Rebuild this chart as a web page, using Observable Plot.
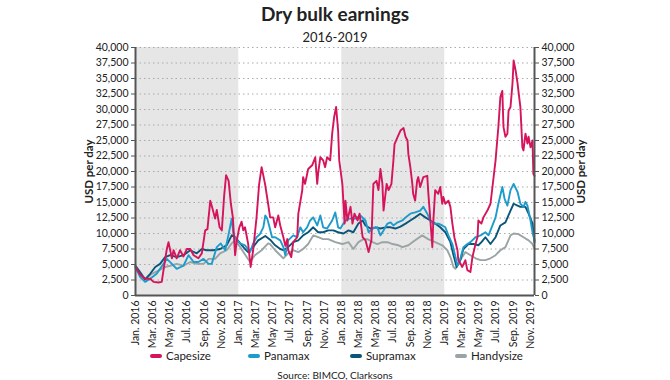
<!DOCTYPE html>
<html>
<head>
<meta charset="utf-8">
<script src="https://cdn.jsdelivr.net/npm/d3@7"></script>
<script src="https://cdn.jsdelivr.net/npm/@observablehq/plot@0.6"></script>
<style>
  html, body { margin: 0; padding: 0; background: #fff; }
  #wrap { position: relative; width: 670px; height: 380px; font-family: Lato, "Open Sans", sans-serif; color: #222; }
  #title { position: absolute; top: 1px; left: 0; width: 670px; text-align: center; font-size: 19px; font-weight: 700; line-height: 26px; }
  #subtitle { position: absolute; top: 28px; left: 0; width: 670px; text-align: center; font-size: 13px; line-height: 18px; }
  #chart { position: absolute; top: 40px; left: 0; }
  .leg { position: absolute; top: 348px; font-size: 11.5px; line-height: 16px; white-space: nowrap; }
  .sw { display: inline-block; width: 12px; height: 4px; border-radius: 2px; vertical-align: middle; margin-right: 4px; position: relative; top: -1px; }
  #source { position: absolute; top: 368px; left: 0; width: 670px; text-align: center; font-size: 10px; line-height: 14px; }
</style>
</head>
<body>
<div id="wrap">
  <div id="title">Dry bulk earnings</div>
  <div id="subtitle">2016-2019</div>
  <div id="chart"></div>
  <div id="legend"></div>
  <div id="source">Source: BIMCO, Clarksons</div>
</div>
<script>
const seriesNames = ["Capesize", "Panamax", "Supramax", "Handysize"];
const seriesColors = ["#d5145c", "#1f9bcb", "#0b5678", "#9aa4a4"];
const legendLeft = [150, 248, 350, 455];
const shadedYears = [2016, 2018];
const yTicks = [0, 2500, 5000, 7500, 10000, 12500, 15000, 17500, 20000, 22500, 25000, 27500, 30000, 32500, 35000, 37500, 40000];
const monthAbbr = ["Jan.", "Feb.", "Mar.", "Apr.", "May", "Jun.", "Jul.", "Aug.", "Sep.", "Oct.", "Nov.", "Dec."];
const tickMonths = ["2016-01-01","2016-03-01","2016-05-01","2016-07-01","2016-09-01","2016-11-01",
  "2017-01-01","2017-03-01","2017-05-01","2017-07-01","2017-09-01","2017-11-01",
  "2018-01-01","2018-03-01","2018-05-01","2018-07-01","2018-09-01","2018-11-01",
  "2019-01-01","2019-03-01","2019-05-01","2019-07-01","2019-09-01","2019-11-01"];
const xStart = "2016-01-01";
const xEnd = "2019-11-15";

const capesize = [
["2016-01-01",4600],["2016-01-17",3400],["2016-02-04",2700],["2016-02-22",2700],["2016-03-05",2200],["2016-03-22",2100],["2016-04-03",2200],["2016-04-09",4000],["2016-04-21",7500],["2016-04-27",8600],["2016-05-09",6000],["2016-05-15",7300],["2016-05-26",6000],["2016-06-07",7300],["2016-06-19",6300],["2016-07-01",7500],["2016-07-13",7500],["2016-07-25",6500],["2016-08-11",6000],["2016-08-23",6800],["2016-09-04",10500],["2016-09-12",10700],["2016-09-22",15300],["2016-09-30",14000],["2016-10-09",12400],["2016-10-15",13800],["2016-10-25",11000],["2016-11-02",10500],["2016-11-10",16000],["2016-11-17",19400],["2016-11-26",18500],["2016-12-04",14800],["2016-12-11",12600],["2016-12-19",6500],["2016-12-25",8900],
["2017-01-03",11000],["2017-01-11",11900],["2017-01-17",10500],["2017-01-23",11000],["2017-02-03",8400],["2017-02-12",4600],["2017-02-21",7300],["2017-03-05",12600],["2017-03-14",17900],["2017-03-23",20700],["2017-04-04",18000],["2017-04-15",14800],["2017-04-22",12600],["2017-05-03",12600],["2017-05-10",11000],["2017-05-21",12900],["2017-05-28",11300],["2017-06-08",9400],["2017-06-15",8000],["2017-06-22",9100],["2017-06-25",7300],["2017-07-06",6200],["2017-07-13",8600],["2017-07-27",9400],["2017-07-31",13200],["2017-08-14",17000],["2017-08-17",19100],["2017-08-24",18000],["2017-09-04",20400],["2017-09-18",21000],["2017-09-29",22300],["2017-10-06",18000],["2017-10-09",19600],["2017-10-17",22300],["2017-10-27",21800],["2017-11-03",20700],["2017-11-10",22300],["2017-11-21",21800],["2017-11-28",26100],["2017-12-05",28800],["2017-12-12",30400],["2017-12-19",26600],["2017-12-23",21800],
["2018-01-03",18000],["2018-01-11",11600],["2018-01-14",15300],["2018-01-21",12100],["2018-02-01",14300],["2018-02-08",11600],["2018-02-15",13200],["2018-02-26",12100],["2018-03-05",13200],["2018-03-16",9400],["2018-03-26",8900],["2018-04-06",7000],["2018-04-16",8900],["2018-04-23",18000],["2018-05-04",18500],["2018-05-11",17000],["2018-05-18",20400],["2018-05-25",18000],["2018-05-29",13700],["2018-06-09",18000],["2018-06-16",17000],["2018-06-26",18000],["2018-07-03",21800],["2018-07-07",24400],["2018-07-18",25600],["2018-07-28",26600],["2018-08-08",27000],["2018-08-15",25600],["2018-08-22",25000],["2018-08-25",22800],["2018-09-01",20700],["2018-09-08",18000],["2018-09-11",16400],["2018-09-18",15300],["2018-09-25",18500],["2018-09-29",19100],["2018-10-06",17500],["2018-10-17",19100],["2018-10-31",19300],["2018-11-03",17000],["2018-11-11",12100],["2018-11-18",7800],["2018-11-21",11600],["2018-11-28",17000],["2018-12-09",16400],["2018-12-16",17500],["2018-12-23",14800],["2018-12-27",15900],
["2019-01-03",14800],["2019-01-14",15300],["2019-01-21",14300],["2019-01-28",11600],["2019-02-04",9400],["2019-02-15",7300],["2019-02-18",5700],["2019-02-25",5200],["2019-03-04",4600],["2019-03-15",5700],["2019-03-22",4100],["2019-04-02",3800],["2019-04-09",6200],["2019-04-20",8300],["2019-04-27",9400],["2019-04-30",12100],["2019-05-11",11600],["2019-05-18",12600],["2019-06-01",13700],["2019-06-12",14800],["2019-06-19",17500],["2019-06-30",21800],["2019-07-07",25600],["2019-07-10",27200],["2019-07-17",32000],["2019-07-24",33000],["2019-07-28",27200],["2019-08-04",25600],["2019-08-11",26100],["2019-08-15",29800],["2019-08-22",30400],["2019-08-29",34200],["2019-09-02",37900],["2019-09-09",36300],["2019-09-16",34200],["2019-09-19",33000],["2019-09-26",30400],["2019-10-03",23900],["2019-10-07",23400],["2019-10-14",26100],["2019-10-21",24500],["2019-10-25",25600],["2019-11-01",23900],["2019-11-08",25000],["2019-11-11",19600],["2019-11-15",19300]
];

const panamax = [
["2016-01-01",4600],["2016-01-17",3000],["2016-02-04",2200],["2016-02-22",2700],["2016-03-16",3500],["2016-04-09",5100],["2016-04-21",5900],["2016-05-09",5100],["2016-05-26",4300],["2016-06-19",4800],["2016-07-07",6500],["2016-07-25",5400],["2016-08-11",5400],["2016-08-29",5900],["2016-09-16",5100],["2016-09-27",5100],["2016-10-15",7800],["2016-10-29",8400],["2016-11-14",7300],["2016-11-26",9900],["2016-12-07",12400],["2016-12-13",9900],["2016-12-25",8900],
["2017-01-06",8400],["2017-01-23",8100],["2017-02-10",7000],["2017-02-21",8400],["2017-03-05",9400],["2017-03-17",9900],["2017-03-29",11000],["2017-04-05",12900],["2017-04-12",12400],["2017-04-20",11000],["2017-04-29",9400],["2017-05-10",9400],["2017-05-28",8900],["2017-06-08",7800],["2017-06-15",6500],["2017-06-25",8900],["2017-07-13",9700],["2017-07-27",9400],["2017-08-07",11000],["2017-08-17",10200],["2017-08-31",11000],["2017-09-11",12100],["2017-09-22",12600],["2017-10-06",11300],["2017-10-17",12900],["2017-10-27",11000],["2017-11-10",10800],["2017-11-28",12100],["2017-12-09",13400],["2017-12-19",11000],["2017-12-27",10800],
["2018-01-07",11600],["2018-01-21",12400],["2018-02-08",12400],["2018-02-18",12400],["2018-03-08",12900],["2018-03-26",12100],["2018-04-06",10200],["2018-04-20",10800],["2018-05-07",11000],["2018-05-18",9700],["2018-05-29",10500],["2018-06-12",11600],["2018-06-23",11800],["2018-07-03",11300],["2018-07-18",11800],["2018-08-04",12100],["2018-08-15",12600],["2018-09-01",13200],["2018-09-18",13400],["2018-10-06",13700],["2018-10-17",14300],["2018-10-31",13200],["2018-11-11",12100],["2018-11-21",11600],["2018-12-09",11600],["2018-12-23",11300],
["2019-01-03",11000],["2019-01-14",9700],["2019-01-28",8300],["2019-02-08",6200],["2019-02-15",4800],["2019-02-25",5900],["2019-03-08",7800],["2019-03-22",8300],["2019-04-02",8600],["2019-04-20",9400],["2019-05-08",9700],["2019-05-25",10200],["2019-06-05",9700],["2019-06-19",11300],["2019-06-30",12600],["2019-07-10",14800],["2019-07-24",17500],["2019-08-01",15600],["2019-08-11",14500],["2019-08-22",17000],["2019-09-02",18000],["2019-09-16",16700],["2019-09-26",14800],["2019-10-07",14300],["2019-10-14",15100],["2019-10-21",14500],["2019-11-01",12100],["2019-11-08",10200],["2019-11-15",8900]
];

const supramax = [
["2016-01-01",4800],["2016-01-17",3800],["2016-02-04",2600],["2016-02-22",3500],["2016-03-11",4600],["2016-03-28",5100],["2016-04-15",6200],["2016-05-03",6500],["2016-05-26",6200],["2016-06-19",6500],["2016-07-13",7300],["2016-08-05",6800],["2016-08-23",7500],["2016-09-09",7300],["2016-10-03",7300],["2016-10-27",7500],["2016-11-19",8100],["2016-12-07",9700],["2016-12-19",9400],
["2017-01-06",8400],["2017-01-23",7500],["2017-02-03",7000],["2017-02-21",7800],["2017-03-11",8900],["2017-04-05",9600],["2017-04-22",9000],["2017-05-10",8100],["2017-05-28",7500],["2017-06-08",7300],["2017-06-25",7800],["2017-07-13",8600],["2017-07-31",8900],["2017-08-17",9700],["2017-09-04",10200],["2017-09-22",11000],["2017-10-09",10200],["2017-10-27",10200],["2017-11-14",10500],["2017-12-02",10500],["2017-12-19",10200],
["2018-01-07",10000],["2018-01-25",10500],["2018-02-11",10200],["2018-03-01",11600],["2018-03-16",12100],["2018-03-26",11300],["2018-04-13",10800],["2018-05-01",11000],["2018-05-18",10800],["2018-06-05",11000],["2018-06-23",11000],["2018-07-10",10800],["2018-07-28",11100],["2018-08-15",11600],["2018-09-01",12100],["2018-09-18",12600],["2018-10-06",13200],["2018-10-24",12600],["2018-11-11",12100],["2018-11-28",11600],["2018-12-16",11000],
["2019-01-03",10200],["2019-01-21",8600],["2019-02-01",6500],["2019-02-12",4600],["2019-02-25",5700],["2019-03-08",7500],["2019-03-26",8300],["2019-04-13",8300],["2019-04-30",8100],["2019-05-11",8600],["2019-05-25",9400],["2019-06-12",8300],["2019-06-30",9400],["2019-07-17",11300],["2019-08-04",11800],["2019-08-22",13700],["2019-09-02",14800],["2019-09-16",14500],["2019-09-26",14300],["2019-10-14",14300],["2019-10-25",13200],["2019-11-08",11600],["2019-11-15",8600]
];

const handysize = [
["2016-01-01",4300],["2016-01-23",3000],["2016-02-04",2600],["2016-02-28",3500],["2016-03-22",4000],["2016-04-15",4600],["2016-05-03",4800],["2016-05-26",5100],["2016-06-19",4800],["2016-07-13",5400],["2016-08-05",5100],["2016-08-29",5100],["2016-09-16",5900],["2016-10-09",5900],["2016-10-27",6800],["2016-11-19",7300],["2016-12-07",8400],["2016-12-19",8900],
["2017-01-06",7800],["2017-01-29",6200],["2017-02-10",5400],["2017-02-27",6500],["2017-03-23",7300],["2017-04-15",8400],["2017-04-22",8300],["2017-05-10",7300],["2017-05-28",6500],["2017-06-08",6000],["2017-06-25",6800],["2017-07-13",7300],["2017-07-31",7000],["2017-08-17",7500],["2017-09-04",8300],["2017-09-22",9700],["2017-10-09",9400],["2017-10-27",9100],["2017-11-14",9100],["2017-12-09",8600],
["2018-01-03",8300],["2018-01-25",8600],["2018-02-11",7500],["2018-03-01",8600],["2018-03-19",9100],["2018-04-02",9100],["2018-04-20",8600],["2018-05-07",8300],["2018-05-25",8600],["2018-06-12",8600],["2018-06-30",8300],["2018-07-21",8100],["2018-08-04",7800],["2018-08-25",8100],["2018-09-18",8900],["2018-10-13",9700],["2018-11-03",9100],["2018-11-28",8600],["2018-12-23",8100],
["2019-01-10",7300],["2019-01-21",6200],["2019-02-01",4600],["2019-02-08",4300],["2019-02-18",5200],["2019-03-04",6200],["2019-03-15",7000],["2019-04-02",6500],["2019-04-20",6000],["2019-05-08",5700],["2019-05-25",5700],["2019-06-12",6000],["2019-06-30",6500],["2019-07-17",7300],["2019-08-04",7800],["2019-08-22",9700],["2019-09-02",10000],["2019-09-19",9900],["2019-10-07",9400],["2019-10-25",8900],["2019-11-08",8300],["2019-11-15",7500]
];

const seriesData = [capesize, panamax, supramax, handysize];
const parse = d3.utcParse("%Y-%m-%d");
const rows = [];
seriesData.forEach((s, i) => s.forEach(([d, v]) => rows.push({series: seriesNames[i], date: parse(d), value: v})));
const start = parse(xStart), end = parse(xEnd);
const bands = shadedYears.map(y => ({x1: new Date(Date.UTC(y, 0, 1)), x2: new Date(Date.UTC(y + 1, 0, 1))}));
const drawOrder = ["Handysize", "Supramax", "Panamax", "Capesize"];

const axisCommon = {
  ticks: yTicks, tickFormat: d3.format(","), tickSize: 4, tickPadding: 3,
  label: "USD per day", labelAnchor: "center", labelArrow: "none", stroke: "#555"
};

const chart = Plot.plot({
  width: 670, height: 310,
  marginLeft: 135, marginRight: 136, marginTop: 7, marginBottom: 55,
  style: {fontFamily: "Lato, 'Open Sans', sans-serif", fontSize: "10.5px", color: "#222", background: "transparent"},
  x: {type: "utc", domain: [start, end]},
  y: {domain: [0, 40000]},
  marks: [
    Plot.rect(bands, {x1: "x1", x2: "x2", y1: 0, y2: 40000, fill: "#e6e6e6"}),
    Plot.ruleY(yTicks.filter(v => v > 0), {stroke: "#aaa", strokeDasharray: "1.5,3", strokeWidth: 1}),
    ...drawOrder.map(name => Plot.line(rows.filter(r => r.series === name), {
      x: "date", y: "value", stroke: seriesColors[seriesNames.indexOf(name)], strokeWidth: 1.9, curve: "linear"
    })),
    Plot.axisY({...axisCommon, anchor: "left", labelOffset: 51}),
    Plot.axisY({...axisCommon, anchor: "right", labelOffset: 50}),
    Plot.axisX({
      ticks: tickMonths.map(parse),
      tickFormat: d => monthAbbr[d.getUTCMonth()] + " " + d.getUTCFullYear(),
      tickRotate: -90, tickSize: 0, tickPadding: 5, label: null, fontSize: 10.5
    }),
    Plot.ruleX([start, end], {stroke: "#555", strokeWidth: 2}),
    Plot.ruleY([0], {stroke: "#555", strokeWidth: 2})
  ]
});
document.getElementById("chart").appendChild(chart);

d3.select(chart).selectAll("text").filter(function() { return this.textContent === "USD per day"; })
  .attr("font-weight", "700").attr("font-size", "11.5px");

const legend = document.getElementById("legend");
seriesNames.forEach((name, i) => {
  const item = document.createElement("div");
  item.className = "leg";
  item.style.left = legendLeft[i] + "px";
  item.innerHTML = `<span class="sw" style="background:${seriesColors[i]}"></span>${name}`;
  legend.appendChild(item);
});
</script>
</body>
</html>
